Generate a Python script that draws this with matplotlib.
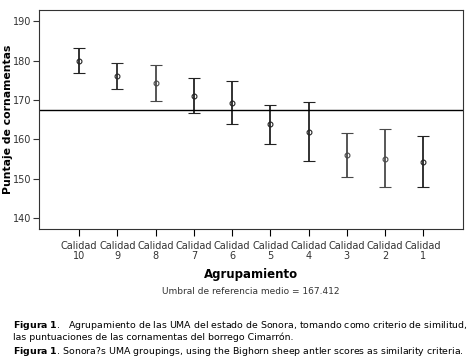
import matplotlib.pyplot as plt
import numpy as np

categories = ['Calidad\n10', 'Calidad\n9', 'Calidad\n8', 'Calidad\n7', 'Calidad\n6',
              'Calidad\n5', 'Calidad\n4', 'Calidad\n3', 'Calidad\n2', 'Calidad\n1']
means = [180.0, 176.0, 174.4, 171.1, 169.2, 163.8, 162.0, 156.0, 155.1, 154.3]
upper = [183.2, 179.3, 178.9, 175.6, 174.7, 168.8, 169.5, 161.6, 162.6, 160.8]
lower = [176.9, 172.7, 169.8, 166.6, 163.9, 158.8, 154.5, 150.5, 147.9, 147.9]
bar_colors = ['#222222', '#2a2a2a', '#484848', '#222222', '#222222',
              '#222222', '#222222', '#484848', '#4a4a4a', '#222222']
ref_value = 167.412
yticks = [140, 150, 160, 170, 180, 190]

fig = plt.figure(figsize=(4.7, 3.6), dpi=100)
ax = fig.add_axes([0.083, 0.364, 0.902, 0.608])

x = np.arange(len(categories))
for i in range(len(categories)):
    ax.errorbar(x[i], means[i],
                yerr=[[means[i] - lower[i]], [upper[i] - means[i]]],
                fmt='o', mfc='none', mec=bar_colors[i], ms=3.5, mew=0.8,
                ecolor=bar_colors[i], elinewidth=1.3, capsize=4.5, capthick=1.3)

ax.axhline(ref_value, color='black', lw=1.0)

ax.set_xlim(-1.05, 10.04)
ax.set_ylim(137.3, 192.8)
ax.set_xticks(x)
ax.set_xticklabels(categories, fontsize=7, color='#333333', linespacing=1.0)
ax.set_yticks(yticks)
ax.tick_params(axis='y', labelsize=7, colors='#333333', length=4, width=0.8, pad=1.5)
ax.tick_params(axis='x', length=5, width=0.8)
for s in ax.spines.values():
    s.set_color('#333333')
    s.set_linewidth(0.8)

ax.set_ylabel('Puntaje de cornamentas', fontsize=7.8, fontweight='bold', va='center')
ax.yaxis.set_label_coords(-0.072, 0.5)
ax.set_xlabel('Agrupamiento', fontsize=8.5, fontweight='bold', labelpad=5)

fig.text(0.534, 0.189, 'Umbral de referencia medio = 167.412', fontsize=6.5,
         ha='center', va='center', color='#333333')

fig.text(0.028, 0.097,
         r'$\mathbf{Figura\ 1}$.   Agrupamiento de las UMA del estado de Sonora, tomando como criterio de similitud,',
         fontsize=6.75, ha='left', va='center')
fig.text(0.028, 0.063,
         'las puntuaciones de las cornamentas del borrego Cimarrón.',
         fontsize=6.75, ha='left', va='center')
fig.text(0.028, 0.025,
         r'$\mathbf{Figura\ 1}$. Sonora?s UMA groupings, using the Bighorn sheep antler scores as similarity criteria.',
         fontsize=6.75, ha='left', va='center')

fig.savefig('out.png', dpi=100)
